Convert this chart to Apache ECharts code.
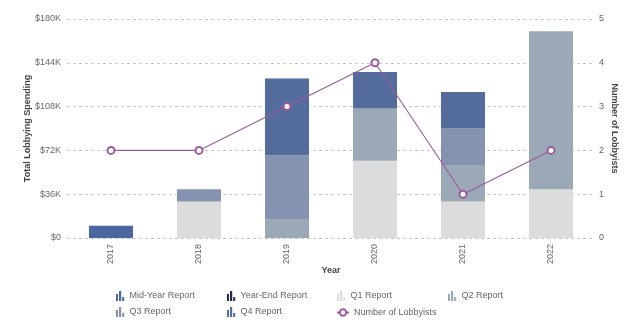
<!DOCTYPE html>
<html>
<head>
<meta charset="utf-8">
<script src="https://cdn.jsdelivr.net/npm/echarts@6/dist/echarts.min.js"></script>
<style>
  html, body { margin: 0; padding: 0; background: #fff; }
  #chart { width: 638px; height: 327px; }
</style>
</head>
<body>
<div id="chart"></div>
<script>
// Lobbying spending per year, split by report, plus lobbyist headcount
const years = ['2017', '2018', '2019', '2020', '2021', '2022'];
const midYear = [10000, 0, 0, 0, 0, 0];
const yearEnd = [0, 0, 0, 0, 0, 0];
const q1 = [0, 30000, 0, 63500, 30000, 40000];
const q2 = [0, 0, 15000, 43000, 30000, 130000];
const q3 = [0, 10000, 53000, 0, 30000, 0];
const q4 = [0, 0, 63000, 30000, 30000, 0];
const lobbyists = [2, 2, 3, 4, 1, 2];
const spendTicks = [0, 36000, 72000, 108000, 144000, 180000];

const barIcon = 'path://M0,3h2v7h-2z M3,0h2.2v10h-2.2z M6.2,6h2v4h-2z';
const textColor = '#666';
const nameColor = '#444';
const font = 'Liberation Sans, Arial, sans-serif';
const fs = 9;

const barSeries = [
  { name: 'Mid-Year Report', data: midYear, color: '#4a67a0' },
  { name: 'Year-End Report', data: yearEnd, color: '#1f2e4f' },
  { name: 'Q1 Report', data: q1, color: '#dcdcdc' },
  { name: 'Q2 Report', data: q2, color: '#9ba8b6' },
  { name: 'Q3 Report', data: q3, color: '#8593b0' },
  { name: 'Q4 Report', data: q4, color: '#536c9c' }
].map(s => ({
  name: s.name,
  type: 'bar',
  stack: 'spend',
  barWidth: '50%',
  data: s.data.map(v => v === 0 ? null : v),
  itemStyle: { color: s.color },
  emphasis: { disabled: true }
}));

// Legend laid out as a 4-column grid, one legend component per entry
const legendCols = [116, 227, 337, 448];
const legendRows = [291, 307];
const legendEntries = [
  ['Mid-Year Report', 0, 0], ['Year-End Report', 1, 0], ['Q1 Report', 2, 0], ['Q2 Report', 3, 0],
  ['Q3 Report', 0, 1], ['Q4 Report', 1, 1], ['Number of Lobbyists', 2, 1]
];
const legends = legendEntries.map(([name, c, r]) => {
  const isLine = name === 'Number of Lobbyists';
  return {
    left: legendCols[c] + (isLine ? -1 : 0),
    top: legendRows[r] + (isLine ? 1 : 0),
    padding: 0,
    itemWidth: isLine ? 12 : 9,
    itemHeight: isLine ? 8 : 10,
    itemGap: 4,
    textStyle: { color: textColor, fontSize: fs, fontFamily: font },
    data: [isLine ? { name } : { name, icon: barIcon }]
  };
});

const nameStyle = { color: nameColor, fontWeight: 'bold', fontSize: fs, fontFamily: font };
const labelStyle = { color: textColor, fontSize: fs, fontFamily: font };

const chart = echarts.init(document.getElementById('chart'), null, { renderer: 'canvas' });
chart.setOption({
  animation: false,
  backgroundColor: '#fff',
  grid: { left: 67, right: 43, top: 19, bottom: 89 },
  legend: legends,
  xAxis: {
    type: 'category',
    data: years,
    name: 'Year',
    nameLocation: 'middle',
    nameMoveOverlap: false,
    nameGap: 28,
    nameTextStyle: nameStyle,
    axisLine: { show: false },
    axisTick: { show: false },
    axisLabel: Object.assign({ rotate: 90, margin: 6 }, labelStyle)
  },
  yAxis: [
    {
      type: 'value',
      min: spendTicks[0],
      max: spendTicks[spendTicks.length - 1],
      interval: spendTicks[1] - spendTicks[0],
      name: 'Total Lobbying Spending',
      nameLocation: 'middle',
      nameMoveOverlap: false,
      nameGap: 35,
      nameTextStyle: nameStyle,
      axisLine: { show: false },
      axisTick: { show: false },
      axisLabel: Object.assign({ margin: 6,
        formatter: v => v === 0 ? '$0' : '$' + (v / 1000) + 'K' }, labelStyle),
      splitLine: { lineStyle: { color: '#c8c8c8', type: [3, 3] } }
    },
    {
      type: 'value',
      min: 0,
      max: 5,
      interval: 1,
      position: 'right',
      name: 'Number of Lobbyists',
      nameLocation: 'middle',
      nameMoveOverlap: false,
      nameRotate: -90,
      nameGap: 15,
      nameTextStyle: nameStyle,
      axisLine: { show: false },
      axisTick: { show: false },
      axisLabel: Object.assign({ margin: 4 }, labelStyle),
      splitLine: { show: false }
    }
  ],
  series: barSeries.concat([{
    name: 'Number of Lobbyists',
    type: 'line',
    yAxisIndex: 1,
    data: lobbyists,
    symbol: 'emptyCircle',
    symbolSize: 7,
    z: 5,
    lineStyle: { color: '#9b5a9e', width: 1.1 },
    itemStyle: { color: '#9b5a9e', borderWidth: 1.1 },
    emphasis: { disabled: true }
  }])
});
</script>
</body>
</html>
